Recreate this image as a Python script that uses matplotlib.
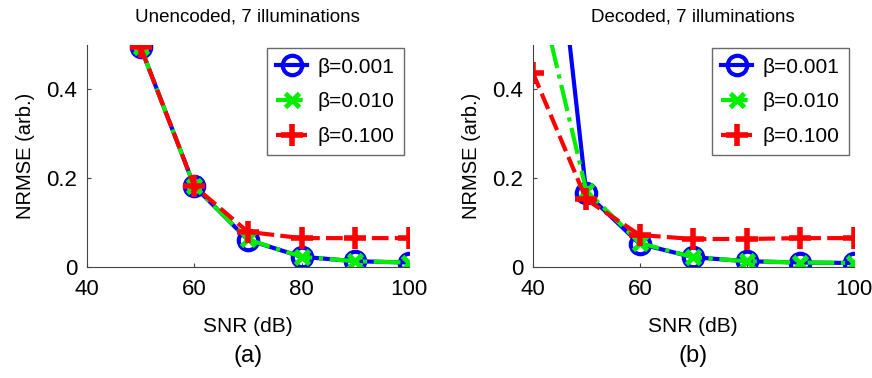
import matplotlib
matplotlib.use('Agg')
import matplotlib.pyplot as plt

plt.rcParams['font.family'] = ['Liberation Sans', 'DejaVu Sans']

# panel (a): unencoded
snr_a = [50, 60, 70, 80, 90, 100]
a_b001 = [0.495, 0.182, 0.061, 0.023, 0.013, 0.010]
a_b010 = [0.495, 0.182, 0.062, 0.023, 0.013, 0.010]
a_b100 = [0.495, 0.182, 0.079, 0.065, 0.065, 0.065]

# panel (b): decoded
snr_b = [40, 50, 60, 70, 80, 90, 100]
b_b001 = [1.25, 0.166, 0.052, 0.022, 0.013, 0.010, 0.009]
b_b010 = [0.68, 0.172, 0.054, 0.022, 0.013, 0.010, 0.009]
b_b100 = [0.438, 0.152, 0.072, 0.063, 0.063, 0.065, 0.065]

labels = ['β=0.001', 'β=0.010', 'β=0.100']
titles = ['Unencoded, 7 illuminations', 'Decoded, 7 illuminations']
tags = ['(a)', '(b)']

fig = plt.figure(figsize=(8.72, 3.78), dpi=100)
ax1 = fig.add_axes([0.0998, 0.2937, 0.369, 0.5873])
ax2 = fig.add_axes([0.611, 0.2937, 0.368, 0.5873])

panels = [(ax1, snr_a, [a_b001, a_b010, a_b100]),
          (ax2, snr_b, [b_b001, b_b010, b_b100])]

for i, (ax, x, ys) in enumerate(panels):
    ax.plot(x, ys[0], color='#0000ff', ls='-', lw=3, marker='o', ms=14,
            mfc='none', mew=3, label=labels[0])
    ax.plot(x, ys[1], color='#00ee00', ls='-.', lw=3, marker='x', ms=10,
            mew=3.5, label=labels[1])
    ax.plot(x, ys[2], color='#ff0000', ls=(0, (4, 1.5)), lw=3, marker='+', ms=16,
            mew=4, label=labels[2])
    ax.set_xlim(40, 100)
    ax.set_ylim(0, 0.5)
    ax.set_xticks([40, 60, 80, 100])
    ax.set_yticks([0, 0.2, 0.4])
    ax.set_yticklabels(['0', '0.2', '0.4'])
    ax.tick_params(direction='in', length=3, labelsize=16, color='#444444')
    ax.tick_params(axis='x', pad=9)
    ax.tick_params(axis='y', pad=7)
    for s in ['top', 'right']:
        ax.spines[s].set_visible(False)
    for s in ['left', 'bottom']:
        ax.spines[s].set_color('#444444')
    ax.set_xlabel('SNR (dB)', fontsize=15, labelpad=12)
    ax.set_ylabel('NRMSE (arb.)', fontsize=14.5, labelpad=8)
    ax.set_title(titles[i], fontsize=13.5, pad=17)
    leg = ax.legend(loc='upper right', bbox_to_anchor=(0.985, 0.985), fontsize=15,
                    handlelength=1.5, borderaxespad=0, frameon=True, fancybox=False,
                    labelspacing=0.75, handletextpad=0.5, borderpad=0.45)
    leg.get_frame().set_edgecolor('#444444')
    leg.get_frame().set_linewidth(1)
    ax.text(0.5, -0.40, tags[i], transform=ax.transAxes, ha='center', va='center',
            fontsize=17)

fig.savefig('out.png', dpi=100)
